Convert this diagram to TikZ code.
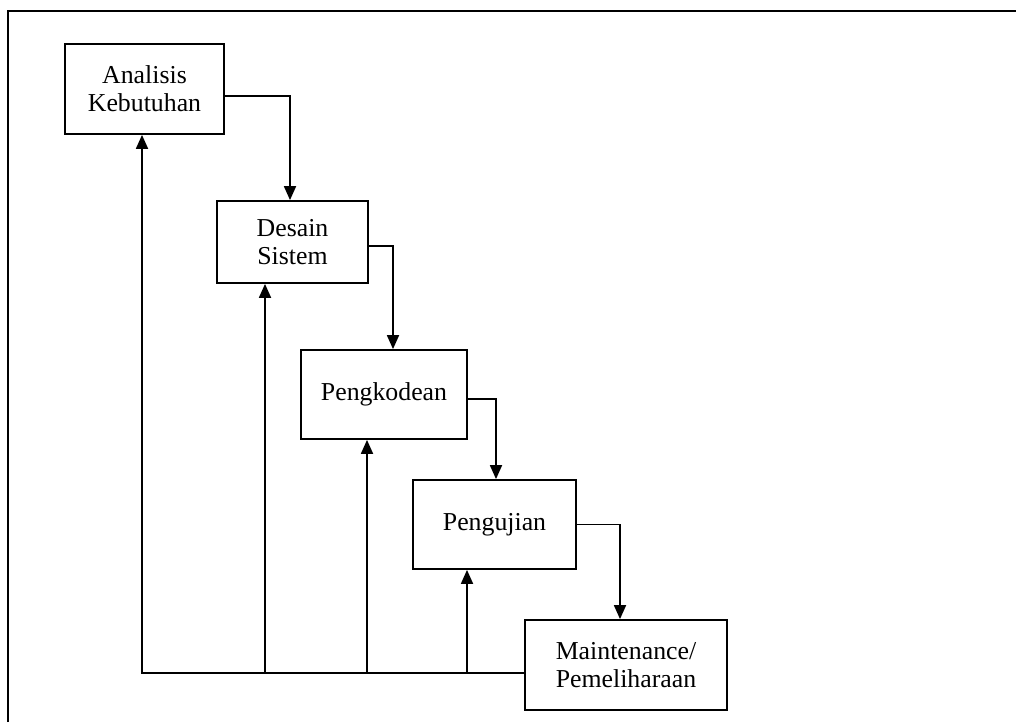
\documentclass[tikz,border=0pt]{standalone}
\usepackage{fontspec}
\setmainfont{Liberation Serif}
\usetikzlibrary{arrows.meta, positioning}

\begin{document}
\begin{tikzpicture}[
    x=0.5pt, y=-0.5pt, % one unit is one pixel of the page
    % Define box style
    box/.style={
        draw, % Draw border
        rectangle, % Rectangle shape
        line width=0.9pt, % Border thickness
        inner sep=0pt, % No padding, sizes are given per box
        align=center, % Center alignment
        font=\fontsize{12.9}{14}\selectfont
      },
    % Define arrow style
    flow/.style={line width=0.9pt, -{Triangle[width=6pt, length=7pt]}},
    % Plain line style
    frame/.style={line width=0.9pt}
  ]

  \useasboundingbox (0, 0) rectangle (1016, 722);

  % Outer frame, only top and left edges show
  \draw[frame] (8, 722) -- (8, 11) -- (1016, 11);

  % Define nodes
  \node[box, minimum width=79.5pt, minimum height=45pt] (Analisis) at (144.5, 89) {Analisis\\Kebutuhan}; % first step, top left
  \node[box, minimum width=75.5pt, minimum height=41pt] (Desain) at (292.5, 242) {Desain\\Sistem};
  \node[box, minimum width=83pt, minimum height=44.5pt] (Pengkodean) at (384, 394.5) {Pengkodean};
  \node[box, minimum width=81.5pt, minimum height=44.5pt] (Pengujian) at (494.5, 524.5) {Pengujian};
  \node[box, minimum width=101pt, minimum height=45pt] (Maintenance) at (626, 665) {Maintenance/\\Pemeliharaan}; % last step, bottom right

  % Draw arrows down the cascade
  \draw[flow] ([yshift=-3.5pt]Analisis.east) -| ([xshift=-1.25pt]Desain.north);
  \draw[flow] ([yshift=-2pt]Desain.east) -| ([xshift=4.5pt]Pengkodean.north);
  \draw[flow] ([yshift=-2.25pt]Pengkodean.east) -| ([xshift=0.75pt]Pengujian.north);
  \draw[flow] (Pengujian.east) -| ([xshift=-3pt]Maintenance.north);

  % Feedback line from Maintenance back to every step
  \coordinate (base) at ([yshift=-4pt]Maintenance.west);
  \draw[flow] (base) -| ([xshift=-1.25pt]Analisis.south);

  % Branches up from the feedback line
  \coordinate (toDesain) at (265, 673);
  \coordinate (toPengkodean) at (367, 673);
  \coordinate (toPengujian) at (467, 673);
  \draw[flow] (toDesain) -- (toDesain |- Desain.south);
  \draw[flow] (toPengkodean) -- (toPengkodean |- Pengkodean.south);
  \draw[flow] (toPengujian) -- (toPengujian |- Pengujian.south);

\end{tikzpicture}
\end{document}
